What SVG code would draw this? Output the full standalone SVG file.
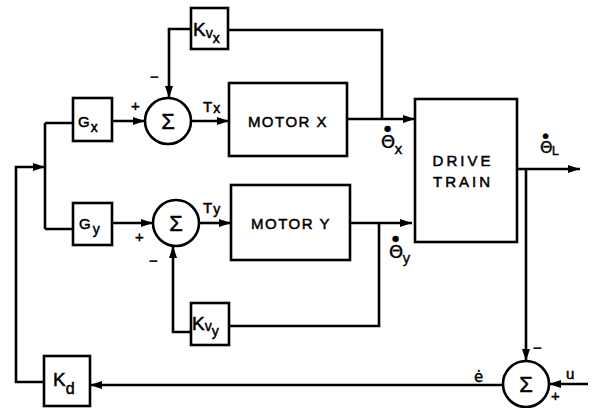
<svg xmlns="http://www.w3.org/2000/svg" width="592" height="408" viewBox="0 0 592 408">
<style>
.b{fill:#fff;stroke:#000;stroke-width:2.6}
.c{fill:none;stroke:#000;stroke-width:2.6}
.t{font-family:"Liberation Sans","DejaVu Sans",sans-serif;fill:#000;stroke:#000;stroke-width:0.5}
.m{font-size:15px;letter-spacing:1.5px;text-anchor:middle}
.w{letter-spacing:3px}
.g{font-size:22px;text-anchor:middle}
.s{font-size:15px}
.sub{font-size:14px}
.d{font-family:"DejaVu Sans",sans-serif;fill:#000;stroke:#000;stroke-width:0.4}
</style>
<defs>
<marker id="a" viewBox="0 0 12 8" refX="12" refY="4" markerWidth="12" markerHeight="8" markerUnits="userSpaceOnUse" orient="auto">
<path d="M0,0 L12,4 L0,8 Z" fill="#000"/>
</marker>
</defs>
<g id="connectors" class="c">
<path d="M112,121 H145" marker-end="url(#a)"/>
<path d="M191,121 H229" marker-end="url(#a)"/>
<path d="M347,119 H415" marker-end="url(#a)"/>
<path d="M382,119 V30 H228"/>
<path d="M191,29 H169 V98" marker-end="url(#a)"/>
<path d="M112,223 H153" marker-end="url(#a)"/>
<path d="M199,223 H231" marker-end="url(#a)"/>
<path d="M350,223 H412" marker-end="url(#a)"/>
<path d="M379,223 V326 H229"/>
<path d="M191,332 H173 V246" marker-end="url(#a)"/>
<path d="M517,169 H580" marker-end="url(#a)"/>
<path d="M526,169 V361" marker-end="url(#a)"/>
<path d="M588,384 H549" marker-end="url(#a)"/>
<path d="M503,385 H90" marker-end="url(#a)"/>
<path d="M44,382 H16 V167 H45" marker-end="url(#a)"/>
<path d="M45,123 V229 M45,123 H73 M45,229 H73"/>
</g>
<g id="Kvx"><rect class="b" x="191" y="8" width="37" height="41"/>
<text class="t" x="193" y="36" font-size="19">K<tspan font-size="14" dy="2">v</tspan><tspan font-size="14" dy="5">x</tspan></text></g>
<g id="Gx"><rect class="b" x="73" y="98" width="39" height="43"/>
<text class="t s" x="78" y="127">G<tspan class="sub" dx="1" dy="5">x</tspan></text></g>
<g id="sumX"><circle class="b" cx="168" cy="121" r="23"/>
<text class="t g" x="168" y="129">Σ</text>
<text class="t s" x="131" y="111">+</text>
<text class="t s" x="150" y="82">−</text>
<text class="t s" x="203" y="112">T<tspan class="sub" dx="1" dy="1">x</tspan></text></g>
<g id="motorX"><rect class="b" x="229" y="83" width="118" height="73"/>
<text class="t m" x="288" y="127">MOTOR X</text></g>
<g id="driveTrain"><rect class="b" x="415" y="99" width="102" height="143"/>
<text class="t m w" x="463" y="166">DRIVE</text>
<text class="t m w" x="463" y="187">TRAIN</text>
<text class="d" x="381" y="148" font-size="18">Θ<tspan font-size="8" dx="-11" dy="-17">●</tspan><tspan font-size="14" dx="3" dy="23">x</tspan></text>
<text class="d" x="389" y="258" font-size="18">Θ<tspan font-size="8" dx="-11" dy="-17">●</tspan><tspan font-size="14" dx="3" dy="22">y</tspan></text>
<text class="d" x="540" y="153" font-size="16">Θ<tspan font-size="7" dx="-10" dy="-15">●</tspan><tspan font-size="12" dx="3" dy="17">L</tspan></text></g>
<g id="Gy"><rect class="b" x="73" y="203" width="39" height="42"/>
<text class="t s" x="79" y="229">G<tspan class="sub" dx="2" dy="5">y</tspan></text></g>
<g id="sumY"><circle class="b" cx="176" cy="223" r="23"/>
<text class="t g" x="176" y="231">Σ</text>
<text class="t s" x="135" y="242">+</text>
<text class="t s" x="149" y="266">−</text>
<text class="t s" x="203" y="213">T<tspan class="sub" dx="1" dy="1">y</tspan></text></g>
<g id="motorY"><rect class="b" x="231" y="185" width="119" height="75"/>
<text class="t m" x="291" y="229">MOTOR Y</text></g>
<g id="Kvy"><rect class="b" x="191" y="303" width="38" height="42"/>
<text class="t" x="192" y="330" font-size="19">K<tspan font-size="14" dy="1">v</tspan><tspan font-size="14" dy="5">y</tspan></text></g>
<g id="Kd"><rect class="b" x="44" y="356" width="46" height="50"/>
<text class="t" x="53" y="386" font-size="19">K<tspan font-size="16" dy="8">d</tspan></text></g>
<g id="sumE"><circle class="b" cx="526" cy="384" r="23"/>
<text class="t g" x="526" y="392">Σ</text>
<text class="t s" x="533" y="353">−</text>
<text class="t s" x="551" y="401">+</text>
<text class="t s" x="566" y="379">u</text>
<text class="d" x="474" y="382" font-size="15">ė</text></g>
</svg>
